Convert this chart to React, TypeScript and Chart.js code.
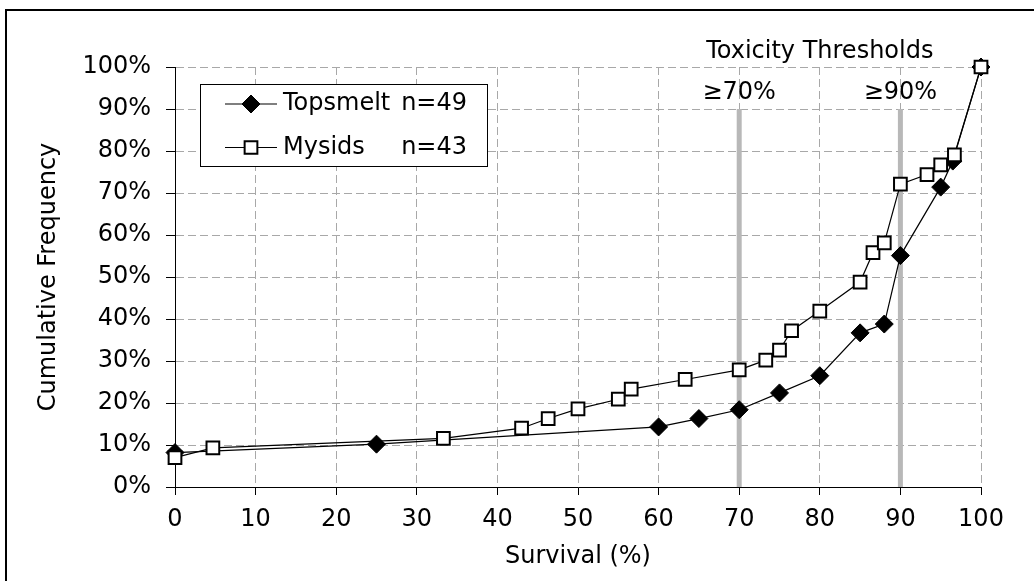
import React, { useEffect, useRef } from 'react';
import { Chart, registerables } from 'chart.js';
import { drawPoint } from 'chart.js/helpers';

Chart.register(...registerables);

// ---- data ----
const topsmeltSurvival = [0, 25, 60, 65, 70, 75, 80, 85, 88, 90, 95, 96.5, 100];
const topsmeltCumFreq = [0.082, 0.102, 0.143, 0.163, 0.184, 0.224, 0.265, 0.367, 0.388, 0.551, 0.714, 0.776, 1.0];
const mysidSurvival = [0, 4.7, 33.3, 43, 46.3, 50, 55, 56.6, 63.3, 70, 73.3, 75, 76.5, 80, 85, 86.6, 88, 90, 93.3, 95, 96.7, 100];
const mysidCumFreq = [0.07, 0.093, 0.116, 0.14, 0.163, 0.186, 0.209, 0.233, 0.256, 0.279, 0.302, 0.326, 0.372, 0.419, 0.488, 0.558, 0.581, 0.721, 0.744, 0.767, 0.791, 1.0];
const seriesNames = ['Topsmelt', 'Mysids'];
const sampleSizes = ['n=49', 'n=43'];
const thresholds = [70, 90];
const thresholdLabels = ['≥70%', '≥90%'];
const thresholdTitle = 'Toxicity Thresholds';
const thresholdTop = 0.9;
const yTickLabels = ['0%', '10%', '20%', '30%', '40%', '50%', '60%', '70%', '80%', '90%', '100%'];
const xTitle = 'Survival (%)';
const yTitle = 'Cumulative Frequency';

const FONT_FAMILY = '"DejaVu Sans", sans-serif';
const FONT_SIZE = 24;

const toPoints = (xs: number[], ys: number[]) => xs.map((x, i) => ({ x, y: ys[i] }));

const annotationPlugin = {
  id: 'thresholdText',
  afterDatasetsDraw(chart: any) {
    const { ctx, scales } = chart;
    const xs = scales.x;
    ctx.save();
    ctx.font = `${FONT_SIZE}px ${FONT_FAMILY}`;
    ctx.fillStyle = '#000';
    ctx.textAlign = 'center';
    ctx.textBaseline = 'middle';
    const mid = (thresholds[0] + thresholds[thresholds.length - 1]) / 2;
    ctx.fillText(thresholdTitle, xs.getPixelForValue(mid), 52);
    thresholds.forEach((t, i) => {
      ctx.fillText(thresholdLabels[i], xs.getPixelForValue(t), 93);
    });
    ctx.restore();
  },
};

const legendPlugin = {
  id: 'boxLegend',
  afterDraw(chart: any) {
    const { ctx } = chart;
    const left = 200;
    const top = 84;
    const w = 287;
    const h = 82;
    ctx.save();
    ctx.fillStyle = '#fff';
    ctx.fillRect(left, top, w, h);
    ctx.strokeStyle = '#000';
    ctx.lineWidth = 1;
    ctx.strokeRect(left + 0.5, top + 0.5, w, h);
    const rows = [104, 147.5];
    // legend order: Topsmelt (dataset 1), Mysids (dataset 0)
    const dsIndex = [1, 0];
    rows.forEach((y, i) => {
      const ds = chart.data.datasets[dsIndex[i]];
      ctx.strokeStyle = '#000';
      ctx.lineWidth = 1.2;
      ctx.beginPath();
      ctx.moveTo(225, y);
      ctx.lineTo(277, y);
      ctx.stroke();
      ctx.fillStyle = ds.pointBackgroundColor;
      ctx.strokeStyle = ds.pointBorderColor;
      ctx.lineWidth = ds.pointBorderWidth;
      drawPoint(ctx, { pointStyle: ds.pointStyle, radius: ds.pointRadius, rotation: 0, borderWidth: ds.pointBorderWidth }, 251, y);
      ctx.fillStyle = '#000';
      ctx.font = `${FONT_SIZE}px ${FONT_FAMILY}`;
      ctx.textBaseline = 'middle';
      ctx.textAlign = 'left';
      ctx.fillText(seriesNames[i], 283, y);
      ctx.textAlign = 'right';
      ctx.fillText(sampleSizes[i], 467, y);
    });
    ctx.restore();
  },
};

export default function App() {
  const canvasRef = useRef<HTMLCanvasElement | null>(null);

  useEffect(() => {
    const canvas = canvasRef.current;
    if (!canvas) return;
    const font = { family: FONT_FAMILY, size: FONT_SIZE };
    const chart = new Chart(canvas, {
      type: 'scatter',
      data: {
        datasets: [
          {
            label: `${seriesNames[1]} ${sampleSizes[1]}`,
            data: toPoints(mysidSurvival, mysidCumFreq),
            showLine: true,
            borderColor: '#000',
            borderWidth: 1.2,
            pointStyle: 'rect',
            pointRadius: 9,
            pointBackgroundColor: '#fff',
            pointBorderColor: '#000',
            pointBorderWidth: 2,
            clip: false,
            order: 0,
          },
          {
            label: `${seriesNames[0]} ${sampleSizes[0]}`,
            data: toPoints(topsmeltSurvival, topsmeltCumFreq),
            showLine: true,
            borderColor: '#000',
            borderWidth: 1.2,
            pointStyle: 'rectRot',
            pointRadius: 9,
            pointBackgroundColor: '#000',
            pointBorderColor: '#000',
            pointBorderWidth: 1,
            clip: false,
            order: 1,
          },
          ...thresholds.map((t) => ({
            label: `threshold ${t}`,
            data: [
              { x: t, y: 0 },
              { x: t, y: thresholdTop },
            ],
            showLine: true,
            borderColor: '#b8b8b8',
            borderWidth: 5,
            pointRadius: 0,
            order: 5,
          })),
        ],
      },
      options: {
        animation: false,
        responsive: false,
        devicePixelRatio: 1,
        layout: { padding: { left: 0, right: 53, top: 67, bottom: 0 } },
        plugins: {
          legend: { display: false },
          tooltip: { enabled: false },
        },
        scales: {
          x: {
            type: 'linear',
            min: 0,
            max: 100,
            ticks: { stepSize: 10, font, color: '#000', padding: 10, maxRotation: 0 },
            grid: { color: '#a8a8a8', lineWidth: 1, drawTicks: true, tickLength: 8, tickColor: '#000', tickWidth: 1 },
            border: { display: true, color: '#000', width: 1, dash: [8, 4] },
            title: { display: true, text: xTitle, font, color: '#000', padding: { top: 0, bottom: 10 } },
            afterFit: (s: any) => {
              s.height = 94;
            },
          },
          y: {
            type: 'linear',
            min: 0,
            max: 1,
            ticks: {
              stepSize: 0.1,
              font,
              color: '#000',
              padding: 15,
              callback: (v: any) => yTickLabels[Math.round(Number(v) * 10)],
            },
            grid: { color: '#a8a8a8', lineWidth: 1, drawTicks: true, tickLength: 9, tickColor: '#000', tickWidth: 1 },
            border: { display: true, color: '#000', width: 1, dash: [8, 4] },
            title: { display: true, text: yTitle, font, color: '#000', padding: { top: 34, bottom: 0 } },
            afterFit: (s: any) => {
              s.width = 175;
            },
          },
        },
      },
      plugins: [annotationPlugin, legendPlugin],
    } as any);
    return () => chart.destroy();
  }, []);

  return (
    <div
      style={{
        position: 'fixed',
        left: 0,
        top: 0,
        width: 1034,
        height: 581,
        overflow: 'hidden',
        background: '#fff',
      }}
    >
      <canvas ref={canvasRef} width={1034} height={581} style={{ display: 'block', width: 1034, height: 581 }} />
      <div
        style={{
          position: 'absolute',
          left: 5,
          top: 9,
          width: 1200,
          height: 800,
          borderLeft: '2px solid #000',
          borderTop: '2px solid #000',
          pointerEvents: 'none',
        }}
      />
    </div>
  );
}
